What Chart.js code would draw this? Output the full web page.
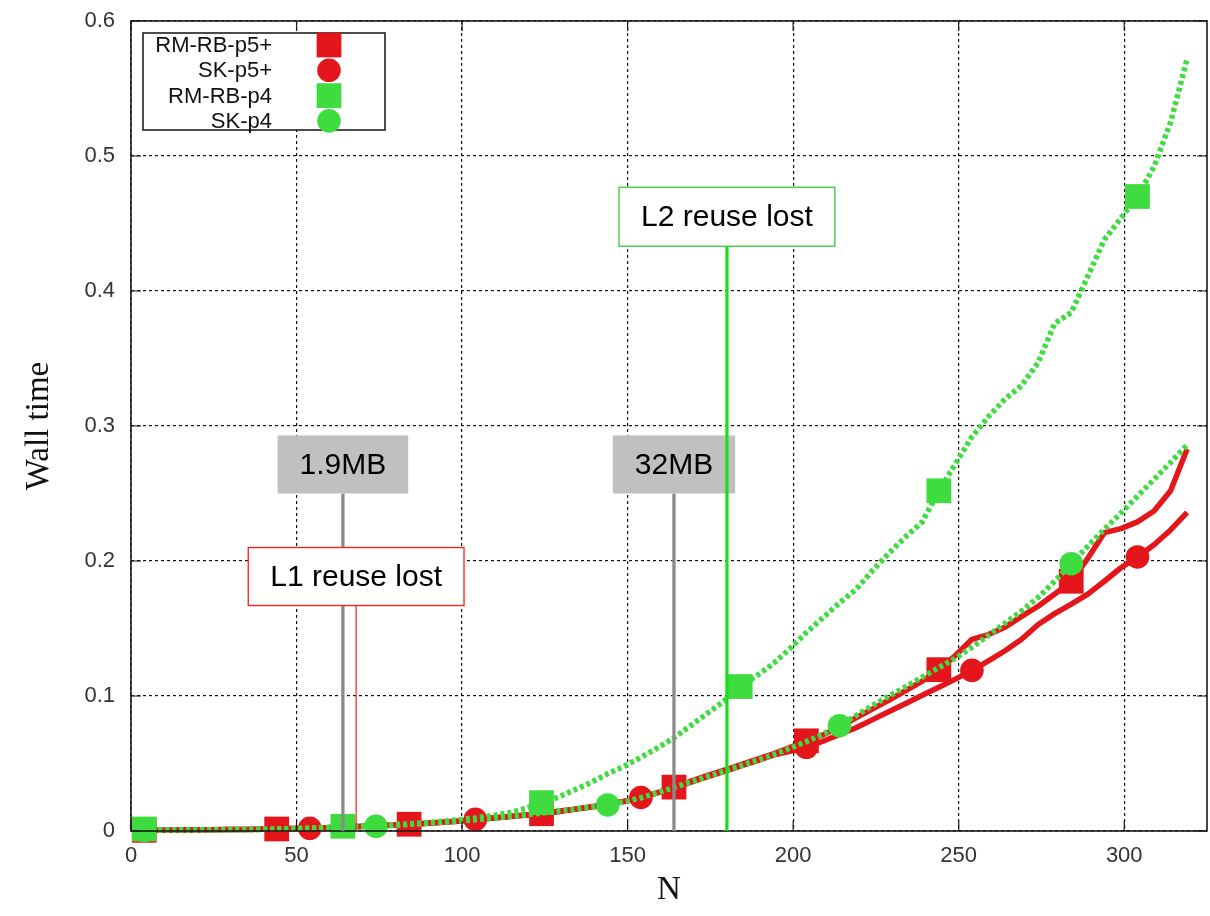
<!DOCTYPE html>
<html>
<head>
<meta charset="utf-8">
<title>Wall time vs N</title>
<script src="https://cdn.jsdelivr.net/npm/chart.js@4.4.0/dist/chart.umd.min.js"></script>
<style>
  html, body { margin: 0; padding: 0; background: #ffffff; overflow: hidden; }
  canvas { display: block; }
</style>
</head>
<body>
<canvas id="chart" width="1210" height="916"></canvas>
<script>
// Problem size N (every run)
const N = [4, 9, 14, 19, 24, 29, 34, 39, 44, 49, 54, 59, 64, 69, 74, 79,
           84, 89, 94, 99, 104, 109, 114, 119, 124, 129, 134, 139, 144, 149, 154, 159,
           164, 169, 174, 179, 184, 189, 194, 199, 204, 209, 214, 219, 224, 229, 234, 239,
           244, 249, 254, 259, 264, 269, 274, 279, 284, 289, 294, 299, 304, 309, 314, 319];

// Wall time per solver variant
const rmrbP5 = [0.0005, 0.0006, 0.0007, 0.0008, 0.0010, 0.0011, 0.0012, 0.0013, 0.0015, 0.0018, 0.0021, 0.0025, 0.0029, 0.0034, 0.0039, 0.0044,
                0.0050, 0.0057, 0.0065, 0.0074, 0.0084, 0.0095, 0.0106, 0.0117, 0.0128, 0.0143, 0.0160, 0.0177, 0.0194, 0.0218, 0.0246, 0.0284,
                0.0325, 0.0368, 0.0410, 0.0450, 0.0490, 0.0530, 0.0572, 0.0618, 0.0668, 0.0712, 0.0770, 0.0838, 0.0905, 0.0970, 0.1040, 0.1110,
                0.1195, 0.1300, 0.1420, 0.1455, 0.1510, 0.1590, 0.1665, 0.1755, 0.1850, 0.2020, 0.2210, 0.2240, 0.2290, 0.2370, 0.2520, 0.2830];
const skP5   = [0.0005, 0.0006, 0.0007, 0.0008, 0.0009, 0.0011, 0.0012, 0.0013, 0.0016, 0.0018, 0.0020, 0.0024, 0.0028, 0.0033, 0.0038, 0.0043,
                0.0049, 0.0056, 0.0064, 0.0073, 0.0086, 0.0096, 0.0107, 0.0119, 0.0131, 0.0146, 0.0162, 0.0179, 0.0197, 0.0220, 0.0248, 0.0282,
                0.0320, 0.0360, 0.0400, 0.0440, 0.0480, 0.0520, 0.0562, 0.0590, 0.0620, 0.0665, 0.0715, 0.0765, 0.0825, 0.0885, 0.0945, 0.1005,
                0.1065, 0.1125, 0.1190, 0.1260, 0.1335, 0.1420, 0.1530, 0.1610, 0.1680, 0.1755, 0.1850, 0.1950, 0.2030, 0.2120, 0.2230, 0.2360];
const rmrbP4 = [0.0015, 0.0010, 0.0008, 0.0008, 0.0009, 0.0010, 0.0011, 0.0012, 0.0014, 0.0017, 0.0021, 0.0026, 0.0035, 0.0037, 0.0041, 0.0046,
                0.0053, 0.0062, 0.0072, 0.0084, 0.0097, 0.0113, 0.0134, 0.0166, 0.0210, 0.0250, 0.0305, 0.0360, 0.0425, 0.0480, 0.0545, 0.0615,
                0.0690, 0.0780, 0.0870, 0.0960, 0.1070, 0.1150, 0.1240, 0.1350, 0.1470, 0.1580, 0.1690, 0.1790, 0.1930, 0.2060, 0.2180, 0.2290,
                0.2520, 0.2720, 0.2920, 0.3070, 0.3200, 0.3300, 0.3470, 0.3760, 0.3840, 0.4110, 0.4380, 0.4540, 0.4700, 0.4920, 0.5250, 0.5720];
const skP4   = [0.0005, 0.0006, 0.0007, 0.0008, 0.0009, 0.0010, 0.0011, 0.0012, 0.0015, 0.0018, 0.0021, 0.0025, 0.0029, 0.0032, 0.0034, 0.0041,
                0.0049, 0.0056, 0.0064, 0.0073, 0.0083, 0.0094, 0.0106, 0.0119, 0.0133, 0.0148, 0.0162, 0.0177, 0.0193, 0.0217, 0.0246, 0.0283,
                0.0322, 0.0363, 0.0403, 0.0443, 0.0483, 0.0523, 0.0565, 0.0612, 0.0662, 0.0718, 0.0780, 0.0855, 0.0930, 0.1000, 0.1070, 0.1140,
                0.1210, 0.1280, 0.1360, 0.1450, 0.1540, 0.1630, 0.1730, 0.1850, 0.1980, 0.2110, 0.2235, 0.2355, 0.2480, 0.2605, 0.2730, 0.2860];

const seriesNames = ['RM-RB-p5+', 'SK-p5+', 'RM-RB-p4', 'SK-p4'];

// Axis ticks
const xTicks = [0, 50, 100, 150, 200, 250, 300];
const yTicks = [0, 0.1, 0.2, 0.3, 0.4, 0.5, 0.6];

// Memory-size markers and cache-reuse thresholds (in N)
const memLabels = ['1.9MB', '32MB'];
const memN = [64, 164];
const reuseLabels = ['L1 reuse lost', 'L2 reuse lost'];
const reuseN = [68, 180];

// ---- styling ----
const RED = '#e4161b';
const GREEN = '#3fdc3f';
const SANS = '"Liberation Sans", Arial, Helvetica, sans-serif';
const SERIF = '"Liberation Serif", "Times New Roman", serif';

// one marker every `every` samples, gnuplot "pointinterval" style
const markerEvery = [8, 10, 12, 14];
const markerShape = ['rect', 'circle', 'rect', 'circle'];
const markerRadius = { rect: 17.5, circle: 11.8 };

const calloutStyle = {
  mem:   { fill: '#c0c0c0', line: '#8a8a8a', lineWidth: 3.3, yCenter: 0.2715, padX: 22, height: 58 },
  reuse: [
    { stroke: '#ff1a1a', line: '#ff1a1a', lineWidth: 1.2, yCenter: 0.1885, padX: 22, height: 58 },
    { stroke: '#33cc33', line: '#18e018', lineWidth: 3.2, yCenter: 0.455,  padX: 22, height: 59 }
  ]
};

function pts(values) { return values.map((v, i) => ({ x: N[i], y: v })); }

const seriesValues = [rmrbP5, skP5, rmrbP4, skP4];
const seriesColor = [RED, RED, GREEN, GREEN];
const seriesDash = [[], [], [4, 3], [4, 3]];

const datasets = seriesValues.map((vals, k) => ({
  label: seriesNames[k],
  data: pts(vals),
  borderColor: seriesColor[k],
  backgroundColor: seriesColor[k],
  borderWidth: 5.5,
  borderDash: seriesDash[k],
  borderCapStyle: 'butt',
  borderJoinStyle: 'round',
  tension: 0,
  pointStyle: markerShape[k],
  pointRadius: ctx => (ctx.dataIndex % markerEvery[k] === 0 ? markerRadius[markerShape[k]] : 0),
  pointBackgroundColor: seriesColor[k],
  pointBorderWidth: 0,
  order: 4 - k,
  clip: false
}));

function drawMarker(ctx, shape, x, y, color) {
  ctx.fillStyle = color;
  if (shape === 'rect') {
    const h = markerRadius.rect * Math.SQRT1_2;
    ctx.fillRect(x - h, y - h, 2 * h, 2 * h);
  } else {
    ctx.beginPath();
    ctx.arc(x, y, markerRadius.circle, 0, Math.PI * 2);
    ctx.fill();
  }
}

// keep the plot frame at a fixed place: no extra room for overhanging tick labels
function fixScaleBox(size, key) {
  return s => {
    s[key] = size;
    s.paddingLeft = 0; s.paddingRight = 0; s.paddingTop = 0; s.paddingBottom = 0;
  };
}

const overlay = {
  id: 'overlay',
  afterDatasetsDraw(chart) {
    const { ctx, chartArea: a, scales: { x, y } } = chart;
    ctx.save();

    // frame with inward ticks on all four sides
    ctx.strokeStyle = '#1a1a1a';
    ctx.lineWidth = 1.6;
    ctx.setLineDash([]);
    ctx.strokeRect(a.left, a.top, a.right - a.left, a.bottom - a.top);
    ctx.lineWidth = 1.2;
    ctx.beginPath();
    xTicks.forEach(v => {
      const px = x.getPixelForValue(v);
      ctx.moveTo(px, a.bottom); ctx.lineTo(px, a.bottom - 10);
      ctx.moveTo(px, a.top); ctx.lineTo(px, a.top + 10);
    });
    yTicks.forEach(v => {
      const py = y.getPixelForValue(v);
      ctx.moveTo(a.left, py); ctx.lineTo(a.left + 10, py);
      ctx.moveTo(a.right, py); ctx.lineTo(a.right - 10, py);
    });
    ctx.stroke();

    ctx.font = '30px ' + SANS;
    ctx.textAlign = 'center';
    ctx.textBaseline = 'middle';

    // memory-size callouts: grey label with a drop line to the axis
    memLabels.forEach((txt, i) => {
      const s = calloutStyle.mem;
      const px = x.getPixelForValue(memN[i]);
      const cy = y.getPixelForValue(s.yCenter);
      const w = ctx.measureText(txt).width + 2 * s.padX;
      const bottom = cy + s.height / 2;
      ctx.strokeStyle = s.line;
      ctx.lineWidth = s.lineWidth;
      ctx.beginPath(); ctx.moveTo(px, bottom); ctx.lineTo(px, a.bottom); ctx.stroke();
      ctx.fillStyle = s.fill;
      ctx.fillRect(px - w / 2, cy - s.height / 2, w, s.height);
      ctx.fillStyle = '#000';
      ctx.fillText(txt, px, cy + 1);
    });

    // cache-reuse callouts: framed white label with a drop line
    reuseLabels.forEach((txt, i) => {
      const s = calloutStyle.reuse[i];
      const px = x.getPixelForValue(reuseN[i]);
      const cy = y.getPixelForValue(s.yCenter);
      const w = ctx.measureText(txt).width + 2 * s.padX;
      const bottom = cy + s.height / 2;
      ctx.strokeStyle = s.line;
      ctx.lineWidth = s.lineWidth;
      ctx.beginPath(); ctx.moveTo(px, bottom); ctx.lineTo(px, a.bottom); ctx.stroke();
      ctx.fillStyle = '#fff';
      ctx.fillRect(px - w / 2, cy - s.height / 2, w, s.height);
      ctx.strokeStyle = s.stroke;
      ctx.lineWidth = 1.3;
      ctx.strokeRect(px - w / 2, cy - s.height / 2, w, s.height);
      ctx.fillStyle = '#000';
      ctx.fillText(txt, px, cy + 1);
    });

    // key box in the top-left corner
    const kx = a.left + 12, ky = a.top + 12, kw = 242, kh = 97;
    ctx.fillStyle = '#fff';
    ctx.fillRect(kx, ky, kw, kh);
    ctx.strokeStyle = '#111';
    ctx.lineWidth = 1.5;
    ctx.strokeRect(kx, ky, kw, kh);
    ctx.font = '22px ' + SANS;
    ctx.textAlign = 'right';
    seriesNames.forEach((name, k) => {
      const ly = ky + 12 + k * 25.3;
      ctx.fillStyle = '#111';
      ctx.fillText(name, kx + 129, ly + 1);
      drawMarker(ctx, markerShape[k], kx + 186, ly, seriesColor[k]);
    });

    ctx.restore();
  }
};

new Chart(document.getElementById('chart'), {
  type: 'line',
  data: { datasets },
  options: {
    responsive: false,
    animation: false,
    events: [],
    layout: { autoPadding: false, padding: { top: 21, right: 3, left: 0, bottom: 0 } },
    plugins: { legend: { display: false }, tooltip: { enabled: false } },
    scales: {
      x: {
        type: 'linear',
        min: 0,
        max: 325,
        afterBuildTicks: s => { s.ticks = xTicks.map(v => ({ value: v })); },
        afterFit: fixScaleBox(85, 'height'),
        ticks: { color: '#333', font: { family: SANS, size: 22 }, padding: 12, maxRotation: 0, callback: v => String(v) },
        grid: { color: '#111', lineWidth: 1.2, drawTicks: false },
        border: { display: false, dash: [3, 3] },
        title: { display: true, text: 'N', color: '#111', font: { family: SERIF, size: 33 }, padding: { top: 0, bottom: 6 } }
      },
      y: {
        type: 'linear',
        min: 0,
        max: 0.6,
        afterBuildTicks: s => { s.ticks = yTicks.map(v => ({ value: v })); },
        afterFit: fixScaleBox(131, 'width'),
        ticks: { color: '#333', font: { family: SANS, size: 22 }, padding: 16, callback: v => String(+v.toFixed(1)) },
        grid: { color: '#111', lineWidth: 1.2, drawTicks: false },
        border: { display: false, dash: [3, 3] },
        title: { display: true, text: 'Wall time', color: '#111', font: { family: SERIF, size: 33 }, padding: { top: 20, bottom: 0 } }
      }
    }
  },
  plugins: [overlay]
});
</script>
</body>
</html>
